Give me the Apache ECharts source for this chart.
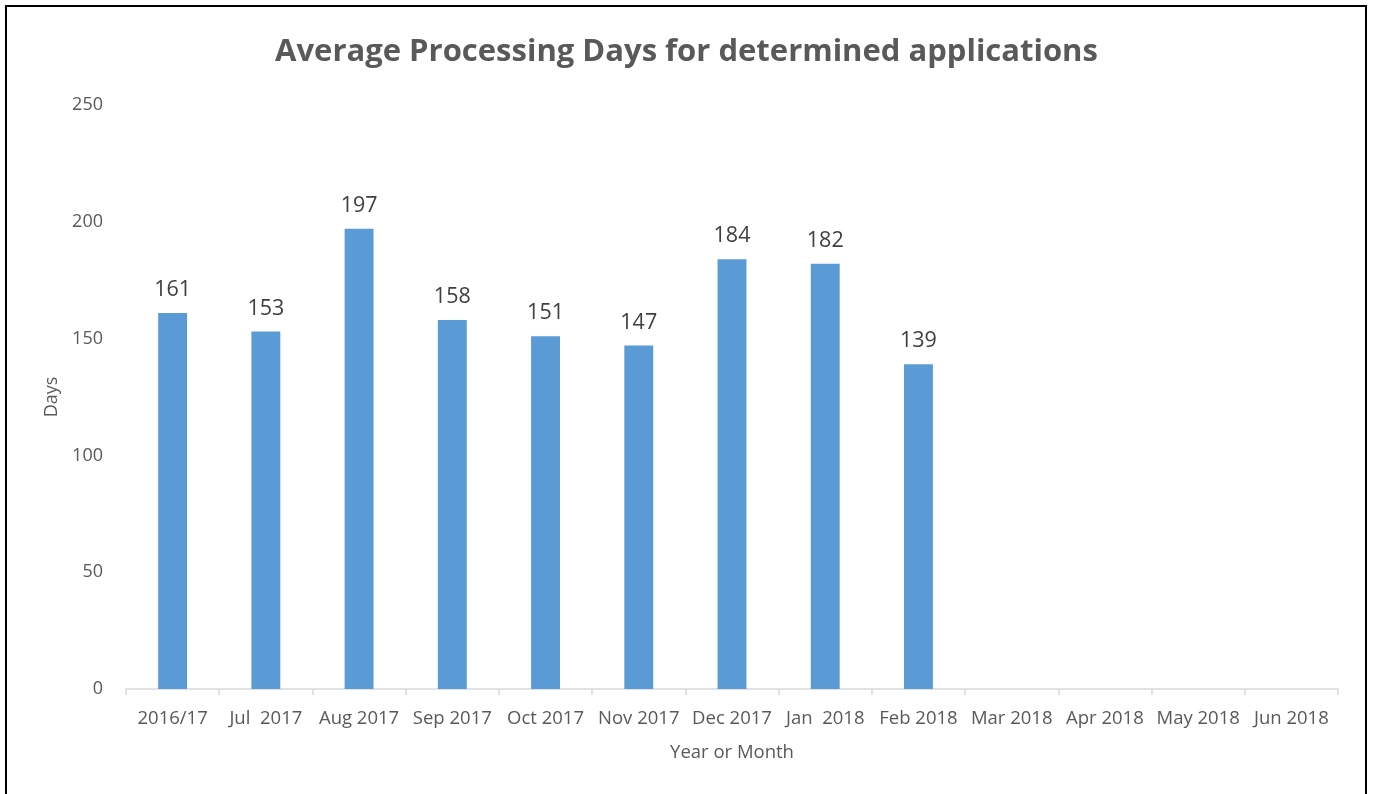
<!DOCTYPE html>
<html><head><meta charset="utf-8">
<script src="https://cdn.jsdelivr.net/npm/echarts@6/dist/echarts.min.js"></script>
<style>html,body{margin:0;padding:0;background:#fff}#c{width:1373px;height:794px}</style>
</head><body><div id="c"></div>
<script>
const categories = ['2016/17','Jul  2017','Aug 2017','Sep 2017','Oct 2017','Nov 2017','Dec 2017','Jan  2018','Feb 2018','Mar 2018','Apr 2018','May 2018','Jun 2018'];
const days = [161,153,197,158,151,147,184,182,139,null,null,null,null];
const yTicks = [0,50,100,150,200,250];

const chart = echarts.init(document.getElementById('c'));
const font = 'Open Sans';
chart.setOption({
  animation:false,
  backgroundColor:'#fff',
  title:{text:'Average Processing Days for determined applications',left:'center',top:32,
    textStyle:{fontFamily:font,fontSize:31,fontWeight:'bold',color:'#595959'}},
  graphic:[{type:'rect',shape:{x:6,y:6,width:1360,height:800},style:{fill:'none',stroke:'#000',lineWidth:2},silent:true}],
  grid:{left:126,right:35,top:105,bottom:105},
  xAxis:{type:'category',data:categories,boundaryGap:true,
    name:'Year or Month',nameLocation:'middle',nameGap:54,
    nameTextStyle:{fontFamily:font,fontSize:18.5,color:'#595959'},
    axisLine:{lineStyle:{color:'#d9d9d9',width:1.5}},
    axisTick:{show:true,length:6,lineStyle:{color:'#d9d9d9',width:1.5},alignWithLabel:false},
    axisLabel:{interval:0,fontFamily:font,fontSize:18.5,color:'#595959',margin:20}},
  yAxis:{type:'value',min:yTicks[0],max:yTicks[yTicks.length-1],interval:50,
    name:'Days',nameLocation:'middle',nameGap:58,nameRotate:90,
    nameTextStyle:{fontFamily:font,fontSize:18,color:'#595959'},
    axisLine:{show:false},axisTick:{show:false},splitLine:{show:false},
    axisLabel:{fontFamily:font,fontSize:18,color:'#595959',margin:23}},
  series:[{type:'bar',data:days,barWidth:'31%',
    itemStyle:{color:'#5B9BD5'},
    label:{show:true,position:'top',distance:12,fontFamily:font,fontSize:21.5,color:'#404040'}}]
});
</script></body></html>
